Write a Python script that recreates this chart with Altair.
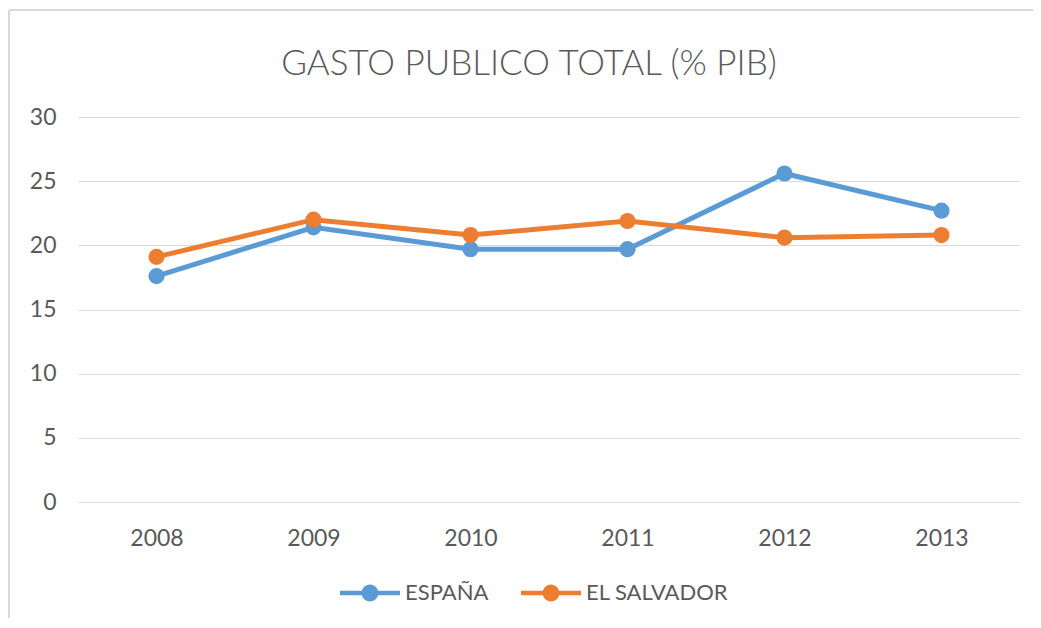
import altair as alt
import pandas as pd

years = ["2008", "2009", "2010", "2011", "2012", "2013"]
espana = [17.6, 21.4, 19.7, 19.7, 25.6, 22.7]
salvador = [19.1, 22.0, 20.8, 21.9, 20.6, 20.8]
series = ["ESPAÑA", "EL SALVADOR"]
colors = ["#5B9BD5", "#ED7D31"]
y_ticks = [0, 5, 10, 15, 20, 25, 30]

rows = []
for name, vals in zip(series, [espana, salvador]):
    for yr, v in zip(years, vals):
        rows.append({"year": yr, "value": v, "serie": name})
df = pd.DataFrame(rows)

FONT = "Lato"
GREY = "#595959"

x_enc = alt.X("year:O", scale=alt.Scale(domain=years, padding=0.5),
              axis=alt.Axis(title=None, labelAngle=0, ticks=False, domain=False,
                            grid=False, labelPadding=25, labelFontSize=23,
                            labelColor=GREY, labelFont=FONT))
y_enc = alt.Y("value:Q", scale=alt.Scale(domain=[0, 30], nice=False),
              axis=alt.Axis(title=None, values=y_ticks, ticks=False, domain=False,
                            grid=True, gridColor="#d9d9d9", gridWidth=1,
                            labelPadding=22, labelFontSize=23, labelColor=GREY,
                            labelFont=FONT))
color_scale = alt.Scale(domain=series, range=colors)

legend_path = ("M-1,-0.075L-0.27,-0.075L-0.27,0.075L-1,0.075Z "
               "M0.27,-0.075L1,-0.075L1,0.075L0.27,0.075Z "
               "M-0.28,0A0.28,0.28 0 1,1 0.28,0A0.28,0.28 0 1,1 -0.28,0Z")
legend = alt.Legend(title=None, orient="none", legendX=262, legendY=446,
                    direction="horizontal", symbolType=legend_path,
                    symbolSize=3600, symbolStrokeWidth=0, labelFontSize=22,
                    labelColor=GREY, labelFont=FONT, labelOffset=5,
                    columnPadding=32, symbolOpacity=1)

layers = []
for name in series:
    base = alt.Chart(df).transform_filter(alt.datum.serie == name)
    pts = base.mark_point(filled=True, size=260, opacity=1).encode(
        x=x_enc, y=y_enc,
        color=alt.Color("serie:N", scale=color_scale, legend=legend))
    line = base.mark_line(strokeWidth=5).encode(
        x=x_enc, y=y_enc,
        color=alt.Color("serie:N", scale=color_scale, legend=legend))
    layers += [line, pts]

border_left = alt.Chart(df).mark_rule(color="#d9d9d9", strokeWidth=2).encode(
    x=alt.value(-69), y=alt.value(-107), y2=alt.value(520))
border_top = alt.Chart(df).mark_rule(color="#d9d9d9", strokeWidth=2).encode(
    x=alt.value(-69), x2=alt.value(960), y=alt.value(-107))

chart = alt.layer(border_left, border_top, *layers).properties(
    width=942, height=385,
    autosize=alt.AutoSizeParams(type="none"),
    padding={"left": 70, "top": 109, "right": 13, "bottom": 116},
    title=alt.TitleParams("GASTO PUBLICO TOTAL (% PIB)", fontSize=35,
                          font=FONT, fontWeight=300, color=GREY,
                          anchor="middle", offset=-73, dx=-20),
).configure(background="white").configure_view(stroke=None)

chart.save("out.html", embed_options={"renderer": "svg", "actions": False})
